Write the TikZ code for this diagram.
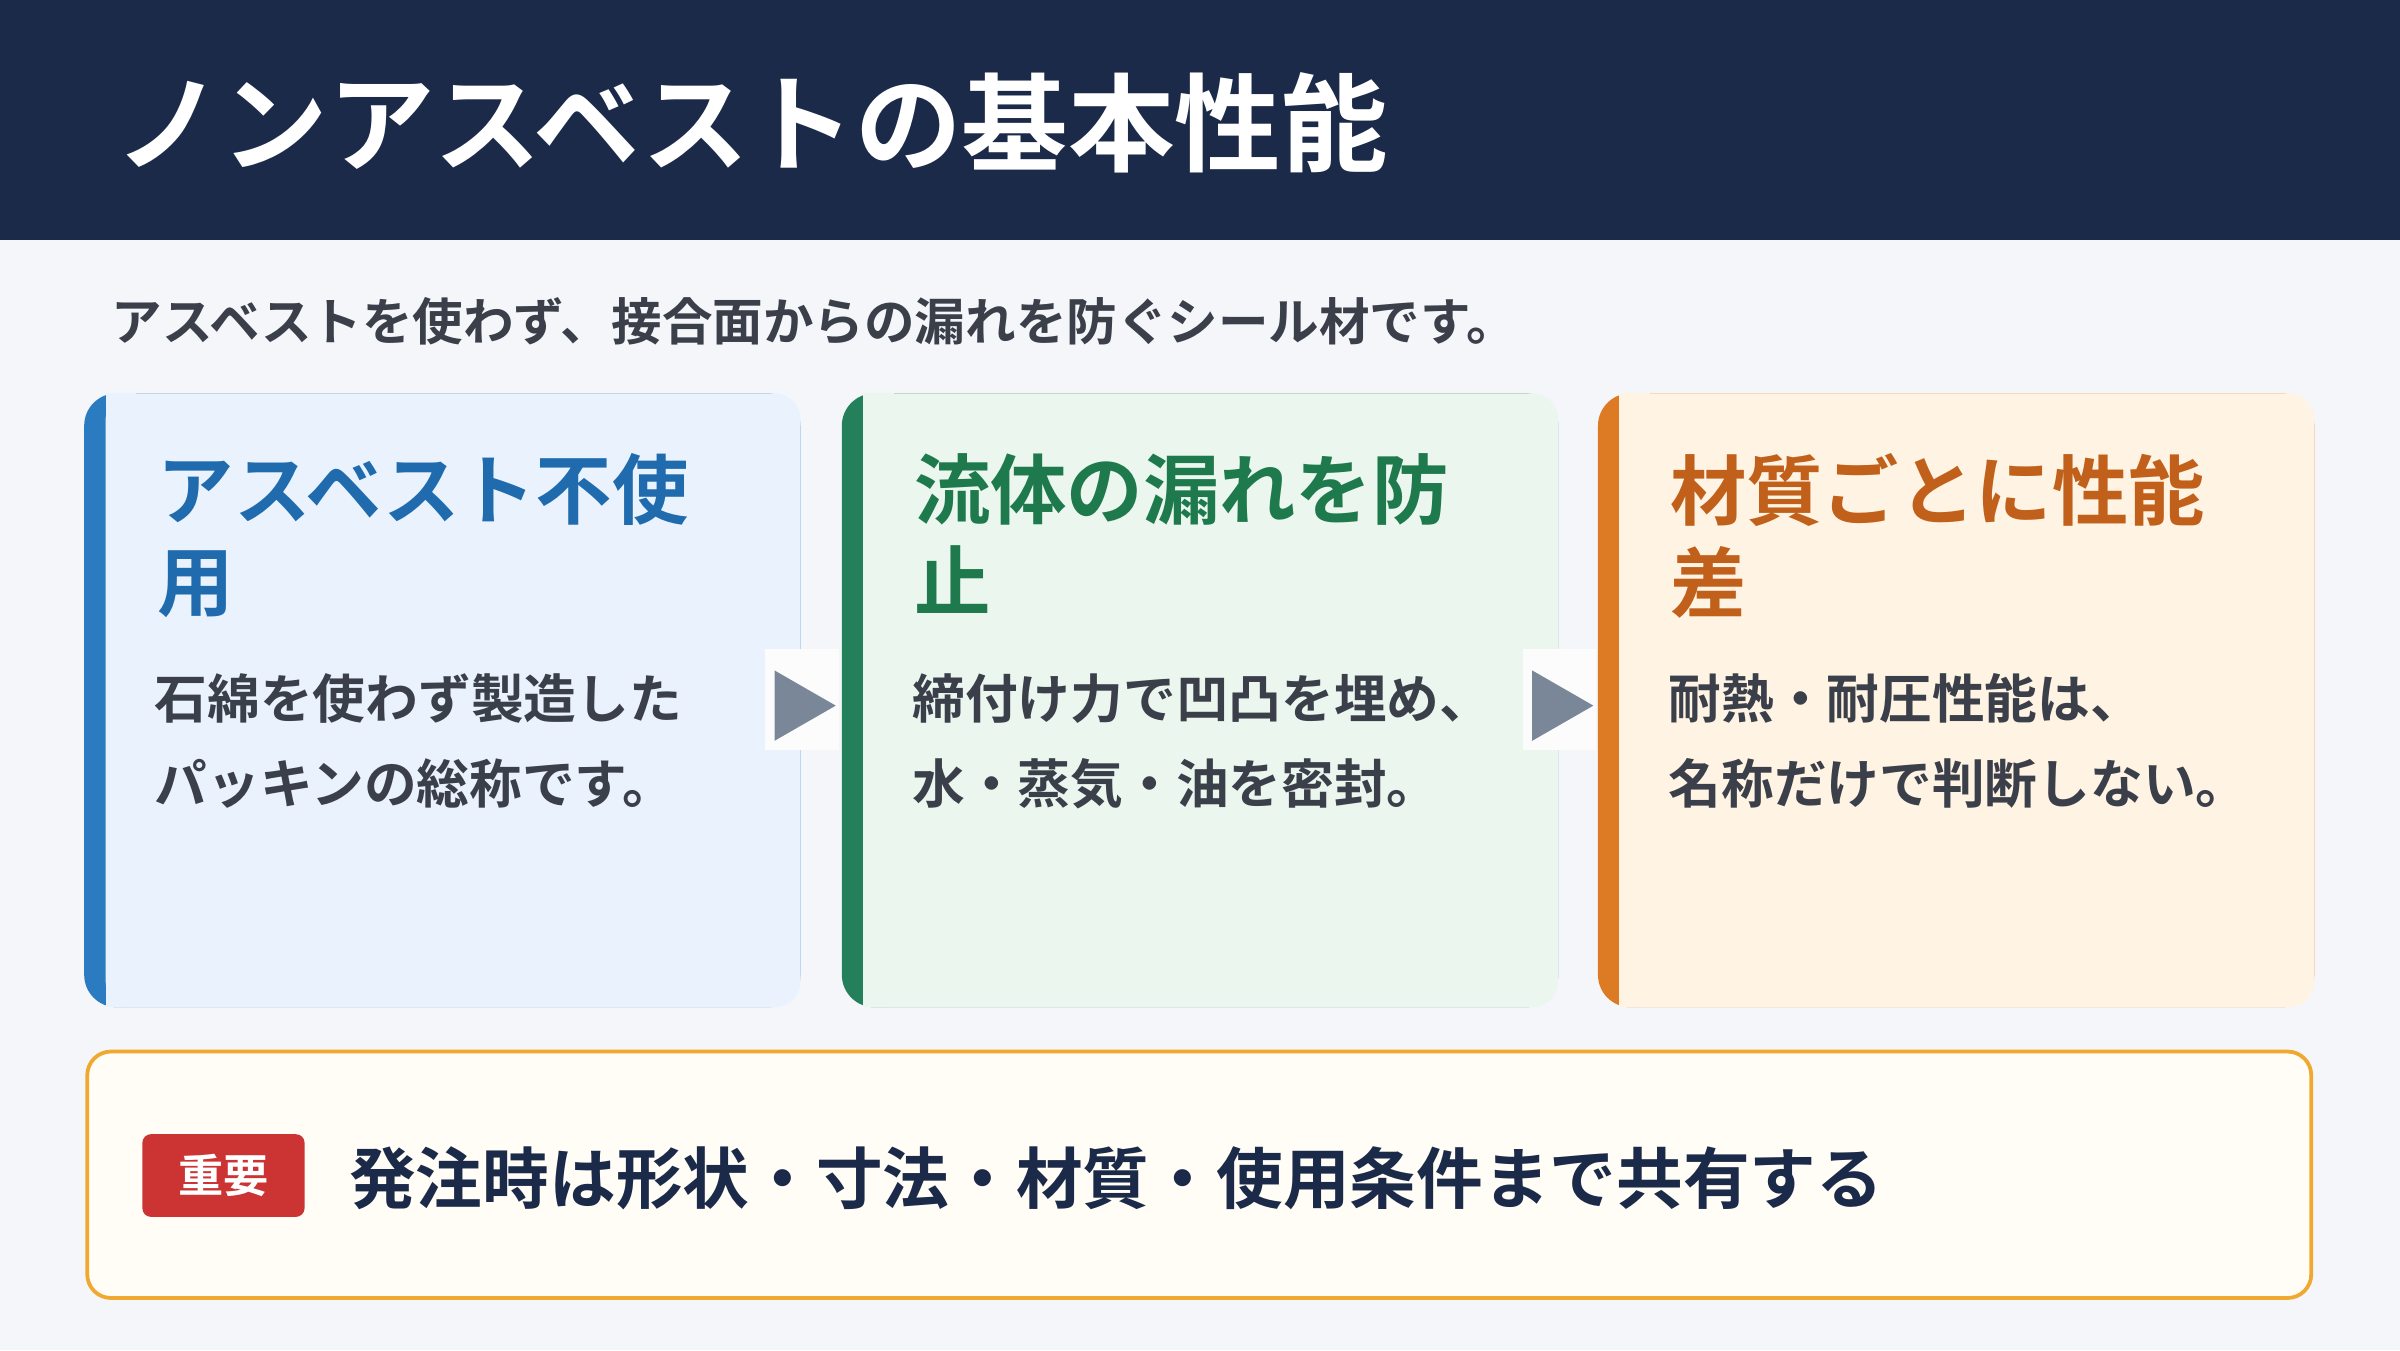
\documentclass[tikz,border=0pt]{standalone}
\usepackage{fontspec}
\setmainfont{Noto Sans CJK JP}[BoldFont={Noto Sans CJK JP Bold}]
\usetikzlibrary{positioning}
\definecolor{navy}{HTML}{1C2A4A}
\definecolor{pagebg}{HTML}{F4F6FA}
\definecolor{bodytxt}{HTML}{3A3F4A}
\definecolor{blueBar}{HTML}{2A7BC0}\definecolor{blueFill}{HTML}{EAF3FD}\definecolor{blueTxt}{HTML}{1F6BAE}
\definecolor{greenBar}{HTML}{23805A}\definecolor{greenFill}{HTML}{EAF6EE}\definecolor{greenTxt}{HTML}{1E7A4C}
\definecolor{orangeBar}{HTML}{DD7B24}\definecolor{orangeFill}{HTML}{FFF3E3}\definecolor{orangeTxt}{HTML}{C0601A}
\definecolor{noteBorder}{HTML}{F0A830}\definecolor{noteFill}{HTML}{FFFDF5}
\definecolor{badgeRed}{HTML}{CC3333}\definecolor{arrowGray}{HTML}{7A8799}
\tikzset{
  cardtitle/.style={anchor=north west,align=left,font=\fontsize{71}{86}\selectfont\bfseries,inner sep=0pt},
  cardbody/.style={anchor=north west,align=left,font=\fontsize{49}{79}\selectfont\bfseries,text=bodytxt,inner sep=0pt},
  steparrow/.style={fill=arrowGray},
}
\newcommand\card[3]{% x, bar, fill
  \fill[#2,rounded corners=30] (#1,257) rectangle ++(468,401);
  \fill[#3,rounded corners=24] (#1+14,257) rectangle ++(454,401);
  \fill[#3] (#1+14,257) rectangle ++(20,401);
}
\begin{document}
\begin{tikzpicture}[x=0.05cm,y=-0.05cm]
  \useasboundingbox (0,0) rectangle (1568,882);
  \fill[pagebg] (0,0) rectangle (1568,882);
  \fill[navy] (0,0) rectangle (1568,157);
  \node[anchor=west,text=white,font=\fontsize{99}{100}\selectfont\bfseries,inner sep=0pt] (title) at (75,80) {ノンアスベストの基本性能};
  \node[anchor=west,text=bodytxt,font=\fontsize{47}{50}\selectfont\bfseries,inner sep=0pt] (lead) at (73,210) {アスベストを使わず、接合面からの漏れを防ぐシール材です。};

  % cards
  \card{55}{blueBar}{blueFill}
  \card{550}{greenBar}{greenFill}
  \card{1044}{orangeBar}{orangeFill}

  \node[cardtitle,text=blueTxt] (t1) at (103,296) {アスベスト不使\\用};
  \node[cardbody] (b1) at (101,440) {石綿を使わず製造した\\パッキンの総称です。};
  \node[cardtitle,text=greenTxt] (t2) at (597,296) {流体の漏れを防\\止};
  \node[cardbody] (b2) at (596,440) {締付け力で凹凸を埋め、\\水・蒸気・油を密封。};
  \node[cardtitle,text=orangeTxt] (t3) at (1091,296) {材質ごとに性能\\差};
  \node[cardbody] (b3) at (1090,440) {耐熱・耐圧性能は、\\名称だけで判断しない。};

  % steps between cards
  \foreach \ax in {500,995}{
    \fill[white!70!pagebg] (\ax,424) rectangle ++(48,66);
    \fill[steparrow] (\ax+6,438) -- (\ax+46,461) -- (\ax+6,484) -- cycle;
  }

  % note
  \draw[noteBorder,line width=3.5pt,fill=noteFill,rounded corners=22] (57,687) rectangle (1510,848);
  \fill[badgeRed,rounded corners=8] (93,741) rectangle (199,795);
  \node[text=white,font=\fontsize{42}{44}\selectfont\bfseries,inner sep=0pt] (badge) at (146,768) {重要};
  \node[anchor=west,text=navy,font=\fontsize{62}{64}\selectfont\bfseries,inner sep=0pt] (note) at (228,770) {発注時は形状・寸法・材質・使用条件まで共有する};
\end{tikzpicture}
\end{document}
